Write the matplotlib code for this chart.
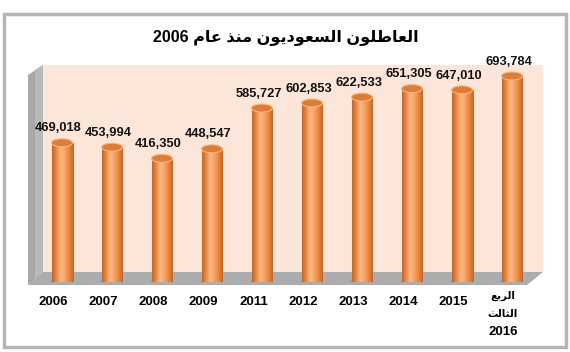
import matplotlib.pyplot as plt
import numpy as np
from matplotlib.patches import Polygon, Rectangle, Ellipse
from matplotlib.colors import LinearSegmentedColormap

# data
years = ['2006', '2007', '2008', '2009', '2011', '2012', '2013', '2014', '2015', '2016']
unemployed = [469018, 453994, 416350, 448547, 585727, 602853, 622533, 651305, 647010, 693784]

# arabic text written in shaped presentation forms, visual (left-to-right) order
title_ar = ('2006 '
            '\ufee1\ufe8e\ufecb '
            '\ufeac\ufee8\ufee3 '
            '\ufee5\ufeee\ufef3\ufea9\ufeee\ufecc\ufeb4\ufedf\ufe8d '
            '\ufee5\ufeee\ufee0\ufec3\ufe8e\ufecc\ufedf\ufe8d')
last_label_ar = ['\ufeca\ufe91\ufeae\ufedf\ufe8d', '\ufe9a\ufedf\ufe8e\ufe9c\ufedf\ufe8d']

fonts = ['Liberation Sans', 'DejaVu Sans']
W, H = 570, 352

fig = plt.figure(figsize=(5.7, 3.52), dpi=100)


def px(x, y):
    return (x / W, 1 - y / H)


def poly(points, color, z=-2):
    p = Polygon([px(x, y) for x, y in points], closed=True, transform=fig.transFigure,
                facecolor=color, edgecolor='none', zorder=z)
    fig.patches.append(p)


# outer frame
fig.patches.append(Rectangle(px(4, 347), 562 / W, 333 / H, transform=fig.transFigure,
                             fill=False, edgecolor='#b5b5b5', lw=2.5, zorder=-3))

# pseudo 3d walls
poly([(43, 65), (543, 65), (543, 272), (43, 272)], '#fce6d9')
poly([(28, 75), (43, 65), (43, 272), (28, 285)], '#a8a8a8')
poly([(35, 70), (43, 65), (43, 272), (35, 278)], '#b9b9b9')
poly([(28, 285), (527, 285), (543, 272), (43, 272)], '#acacac')

# axes mapped so that y=0 sits on the floor
L, R, B, T = 28, 545, 282, 65
ax = fig.add_axes([L / W, 1 - B / H, (R - L) / W, (B - T) / H])
ax.set_facecolor('none')
for s in ax.spines.values():
    s.set_visible(False)
ax.set_xticks([])
ax.set_yticks([])

scale = 206 / max(unemployed)          # pixels per person
x = np.arange(len(years))
bw = 0.42
eh = 8 / scale

cyl = LinearSegmentedColormap.from_list(
    'cyl', ['#c0662c', '#ee8a42', '#fbb887', '#f9a262', '#e9853c', '#c2662a'])
grad = np.linspace(0, 1, 64).reshape(1, -1)

bars = ax.bar(x, unemployed, width=bw, color='none', zorder=3)
for xi, v, b in zip(x, unemployed, bars):
    # rounded bottom
    ax.add_patch(Ellipse((xi, 0), bw, eh, facecolor='#e0823d', edgecolor='#c0662c',
                         lw=0.5, zorder=2))
    im = ax.imshow(grad, cmap=cyl, extent=[xi - bw / 2, xi + bw / 2, 0, v],
                   aspect='auto', zorder=3)
    im.set_clip_path(b)
    # top cap
    ax.add_patch(Ellipse((xi, v), bw, eh, facecolor='#de7d36', edgecolor='#f8b686',
                         lw=0.8, zorder=4))
    ax.annotate(f'{v:,}', (xi, v), xytext=(-2.5, 6), textcoords='offset points',
                ha='center', va='bottom', fontsize=9.3, fontweight='bold',
                family=fonts, color='#111111')

ax.set_xlim(-(62 - L) / 50, len(years) - 1 + (R - 512) / 50)
ax.set_ylim(0, (B - T) / scale)

# category labels under the floor
for xi, lab in zip(x[:-1], years[:-1]):
    ax.annotate(lab, (xi, 0), xytext=(-6, -14.5), textcoords='offset points',
                ha='center', va='center', fontsize=9.5, fontweight='bold',
                family=fonts, annotation_clip=False)
xl = x[-1]
ax.annotate(last_label_ar[0], (xl, 0), xytext=(-6.5, -10), textcoords='offset points',
            ha='center', va='center', fontsize=7.5, fontweight='bold',
            family=fonts, annotation_clip=False)
ax.annotate(last_label_ar[1], (xl, 0), xytext=(-6.5, -23), textcoords='offset points',
            ha='center', va='center', fontsize=7.5, fontweight='bold',
            family=fonts, annotation_clip=False)
ax.annotate(years[-1], (xl, 0), xytext=(-6.5, -36), textcoords='offset points',
            ha='center', va='center', fontsize=9.5, fontweight='bold',
            family=fonts, annotation_clip=False)

fig.text(286 / W, 1 - 37 / H, title_ar, ha='center', va='center', fontsize=11.5,
         fontweight='bold', family=fonts)

fig.savefig('out.png', dpi=100)
